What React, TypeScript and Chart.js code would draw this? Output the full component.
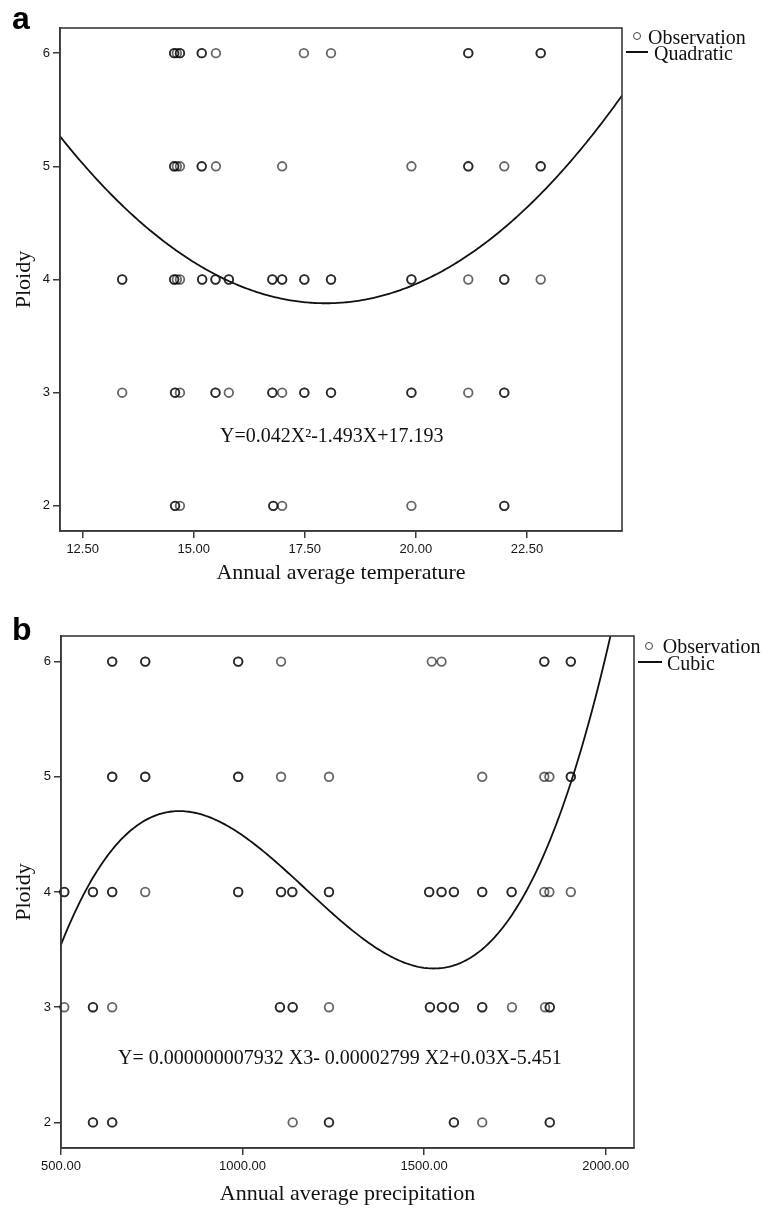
import React, { useEffect, useRef } from "react";
import { Chart, registerables } from "chart.js";

Chart.register(...registerables);

// ---------- data ----------
const PLOIDY_LEVELS = [6, 5, 4, 3, 2];
const PLOIDY_TICKS = [2, 3, 4, 5, 6];
const TEMP_TICKS = [12.5, 15, 17.5, 20, 22.5];
const PRECIP_TICKS = [500, 1000, 1500, 2000];

// Annual average temperature of observations, per ploidy level (repeats = overlapping observations)
const TEMP_PLOIDY6 = [14.56, 14.56, 14.62, 14.69, 14.69, 15.18, 15.18, 15.5, 17.48, 18.09, 21.18, 21.18, 22.81, 22.81];
const TEMP_PLOIDY5 = [14.56, 14.56, 14.62, 14.69, 15.18, 15.18, 15.5, 16.99, 19.9, 21.18, 21.18, 21.99, 22.81, 22.81];
const TEMP_PLOIDY4 = [13.39, 13.39, 14.56, 14.56, 14.62, 14.69, 15.19, 15.19, 15.49, 15.49, 15.79, 15.79, 16.77, 16.77, 16.99, 16.99, 17.49, 17.49, 18.09, 18.09, 19.9, 19.9, 21.18, 21.99, 21.99, 22.81];
const TEMP_PLOIDY3 = [13.39, 14.58, 14.58, 14.69, 15.49, 15.49, 15.79, 16.77, 16.77, 16.99, 17.49, 17.49, 18.09, 18.09, 19.9, 19.9, 21.18, 21.99, 21.99];
const TEMP_PLOIDY2 = [14.58, 14.58, 14.69, 16.79, 16.79, 16.99, 19.9, 21.99, 21.99];

// Annual average precipitation of observations, per ploidy level
const PRECIP_PLOIDY6 = [641, 641, 732, 732, 988, 988, 1106, 1521, 1548, 1831, 1831, 1904, 1904];
const PRECIP_PLOIDY5 = [641, 641, 732, 732, 988, 988, 1106, 1238, 1660, 1831, 1845, 1904, 1904];
const PRECIP_PLOIDY4 = [509, 509, 588, 588, 641, 641, 732, 988, 988, 1106, 1106, 1137, 1137, 1238, 1238, 1514, 1514, 1548, 1548, 1582, 1582, 1660, 1660, 1741, 1741, 1831, 1845, 1904];
const PRECIP_PLOIDY3 = [509, 588, 588, 641, 1103, 1103, 1138, 1138, 1238, 1516, 1516, 1549, 1549, 1582, 1582, 1660, 1660, 1742, 1833, 1846, 1846];
const PRECIP_PLOIDY2 = [588, 588, 641, 641, 1138, 1238, 1238, 1582, 1582, 1660, 1846, 1846];

// fitted curves (coefficients c0 + c1 x + c2 x^2 + c3 x^3)
const QUAD_COEF = [17.11, -1.4825, 0.04125];
const CUBIC_COEF = [-5.451, 0.03, -0.00002799, 0.000000007932];

const TEMP_EQUATION = "Y=0.042X²-1.493X+17.193";
const PRECIP_EQUATION = "Y= 0.000000007932 X3- 0.00002799 X2+0.03X-5.451";

// ---------- helpers ----------
const toPoints = (lists: number[][]) =>
  lists.flatMap((xs, i) => xs.map((x) => ({ x, y: PLOIDY_LEVELS[i] })));

const poly = (coef: number[], x: number) => coef.reduce((s, c, i) => s + c * Math.pow(x, i), 0);

const curvePoints = (coef: number[], min: number, max: number) => {
  const n = 300;
  const out: { x: number; y: number }[] = [];
  for (let i = 0; i <= n; i++) {
    const x = min + ((max - min) * i) / n;
    out.push({ x, y: poly(coef, x) });
  }
  return out;
};

const framePlugin = {
  id: "frame",
  afterDraw(chart: any) {
    const { ctx, chartArea } = chart;
    const { left, top, right, bottom } = chartArea;
    ctx.save();
    ctx.strokeStyle = "#3a3a3a";
    ctx.lineWidth = 1.6;
    ctx.strokeRect(left, top, right - left, bottom - top);
    ctx.restore();
  },
};

type PanelCfg = {
  canvasH: number;
  padTop: number;
  padRight: number;
  yWidth: number;
  xHeight: number;
  xMin: number;
  xMax: number;
  xTicks: number[];
  xTitle: string;
  xTitlePadBottom: number;
  points: { x: number; y: number }[];
  coef: number[];
  fitLabel: string;
};

function ScatterCanvas({ cfg }: { cfg: PanelCfg }) {
  const ref = useRef<HTMLCanvasElement | null>(null);
  useEffect(() => {
    if (!ref.current) return;
    const axisColor = "#3a3a3a";
    const chart = new Chart(ref.current, {
      type: "scatter",
      data: {
        datasets: [
          {
            type: "line",
            label: cfg.fitLabel,
            data: curvePoints(cfg.coef, cfg.xMin, cfg.xMax),
            borderColor: "#111",
            borderWidth: 1.8,
            pointRadius: 0,
            fill: false,
            tension: 0,
            clip: 0,
            order: 1,
          } as any,
          {
            type: "scatter",
            label: "Observation",
            data: cfg.points,
            pointStyle: "circle",
            pointRadius: 4.3,
            pointBorderWidth: 1.8,
            pointBorderColor: "rgba(0,0,0,0.6)",
            pointBackgroundColor: "rgba(0,0,0,0)",
            clip: false,
            order: 2,
          } as any,
        ],
      },
      options: {
        responsive: false,
        animation: false,
        layout: { padding: { left: 0, top: cfg.padTop, right: cfg.padRight, bottom: 0 } },
        plugins: { legend: { display: false }, tooltip: { enabled: false } },
        scales: {
          x: {
            type: "linear",
            min: cfg.xMin,
            max: cfg.xMax,
            afterBuildTicks: (s: any) => {
              s.ticks = cfg.xTicks.map((v) => ({ value: v }));
            },
            afterFit: (s: any) => {
              s.height = cfg.xHeight;
            },
            ticks: {
              callback: (v: any) => Number(v).toFixed(2),
              font: { family: "'Liberation Sans', Arial, sans-serif", size: 13 },
              color: "#151515",
              padding: 4,
              maxRotation: 0,
              autoSkip: false,
            },
            grid: { drawOnChartArea: false, drawTicks: true, tickLength: 7, color: axisColor, lineWidth: 1.5 },
            border: { display: true, color: axisColor, width: 1.6 },
            title: {
              display: true,
              text: cfg.xTitle,
              font: { family: "'Liberation Serif', 'Times New Roman', serif", size: 22 },
              color: "#111",
              padding: { top: 0, bottom: cfg.xTitlePadBottom },
            },
          },
          y: {
            type: "linear",
            min: 1.778,
            max: 6.222,
            afterBuildTicks: (s: any) => {
              s.ticks = PLOIDY_TICKS.map((v) => ({ value: v }));
            },
            afterFit: (s: any) => {
              s.width = cfg.yWidth;
            },
            ticks: {
              callback: (v: any) => String(v),
              font: { family: "'Liberation Sans', Arial, sans-serif", size: 13 },
              color: "#151515",
              padding: 3,
            },
            grid: { drawOnChartArea: false, drawTicks: true, tickLength: 7, color: axisColor, lineWidth: 1.5 },
            border: { display: true, color: axisColor, width: 1.6 },
            title: {
              display: true,
              text: "Ploidy",
              font: { family: "'Liberation Serif', 'Times New Roman', serif", size: 22 },
              color: "#111",
              padding: { top: 11, bottom: 0 },
            },
          },
        },
      },
      plugins: [framePlugin],
    } as any);
    return () => chart.destroy();
  }, [cfg]);
  return (
    <canvas
      ref={ref}
      width={775}
      height={cfg.canvasH}
      style={{ position: "absolute", left: 0, top: 0, width: 775, height: cfg.canvasH }}
    />
  );
}

const serif = "'Liberation Serif', 'Times New Roman', serif";

const abs = (left: number, top: number, extra: React.CSSProperties = {}): React.CSSProperties => ({
  position: "absolute",
  left,
  top,
  whiteSpace: "nowrap",
  ...extra,
});

const textStyle = (left: number, top: number): React.CSSProperties =>
  abs(left, top, { fontFamily: serif, fontSize: 20, lineHeight: "20px", color: "#111" });

const TEMP_CFG: PanelCfg = {
  canvasH: 590,
  padTop: 28,
  padRight: 153,
  yWidth: 60,
  xHeight: 59,
  xMin: 11.99,
  xMax: 24.64,
  xTicks: TEMP_TICKS,
  xTitle: "Annual average temperature",
  xTitlePadBottom: 4,
  points: toPoints([TEMP_PLOIDY6, TEMP_PLOIDY5, TEMP_PLOIDY4, TEMP_PLOIDY3, TEMP_PLOIDY2]),
  coef: QUAD_COEF,
  fitLabel: "Quadratic",
};

const PRECIP_CFG: PanelCfg = {
  canvasH: 618,
  padTop: 46,
  padRight: 141,
  yWidth: 61,
  xHeight: 60,
  xMin: 500,
  xMax: 2078,
  xTicks: PRECIP_TICKS,
  xTitle: "Annual average precipitation",
  xTitlePadBottom: 1,
  points: toPoints([PRECIP_PLOIDY6, PRECIP_PLOIDY5, PRECIP_PLOIDY4, PRECIP_PLOIDY3, PRECIP_PLOIDY2]),
  coef: CUBIC_COEF,
  fitLabel: "Cubic",
};

export default function App() {
  const letterStyle = (top: number): React.CSSProperties =>
    abs(12, top, {
      fontFamily: "'Liberation Sans', Arial, sans-serif",
      fontWeight: 700,
      fontSize: 32,
      lineHeight: "32px",
      color: "#000",
    });
  const circle = (cx: number, cy: number): React.CSSProperties =>
    abs(cx - 4, cy - 4, {
      width: 8,
      height: 8,
      boxSizing: "border-box",
      border: "1.4px solid #444",
      borderRadius: "50%",
    });
  const line = (x1: number, x2: number, y: number): React.CSSProperties =>
    abs(x1, y - 0.8, { width: x2 - x1, height: 1.7, background: "#111" });

  return (
    <div style={{ position: "absolute", left: 0, top: 0, width: 775, height: 1208, background: "#fff", overflow: "hidden" }}>
      <div style={{ position: "absolute", left: 0, top: 0, width: 775, height: 590 }}>
        <ScatterCanvas cfg={TEMP_CFG} />
        <div style={letterStyle(2)}>a</div>
        <div style={circle(636.7, 35.7)} />
        <div style={textStyle(648, 27.3)}>Observation</div>
        <div style={line(625.7, 647.7, 51.7)} />
        <div style={textStyle(654, 43.3)}>Quadratic</div>
        <div style={textStyle(220, 425)}>{TEMP_EQUATION}</div>
      </div>
      <div style={{ position: "absolute", left: 0, top: 590, width: 775, height: 618 }}>
        <ScatterCanvas cfg={PRECIP_CFG} />
        <div style={letterStyle(23)}>b</div>
        <div style={circle(649, 56)} />
        <div style={textStyle(662.7, 46.3)}>Observation</div>
        <div style={line(637.7, 661.7, 71.7)} />
        <div style={textStyle(667, 63.3)}>Cubic</div>
        <div style={textStyle(118, 456.5)}>{PRECIP_EQUATION}</div>
      </div>
    </div>
  );
}
